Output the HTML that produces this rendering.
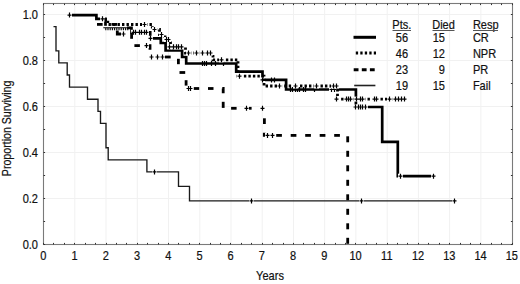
<!DOCTYPE html>
<html><head><meta charset="utf-8"><style>
html,body{margin:0;padding:0;background:#fff;width:520px;height:284px;overflow:hidden}
svg{display:block}
</style></head><body>
<svg width="520" height="284" viewBox="0 0 520 284">
<rect width="520" height="284" fill="#fff"/>
<path d="M74.8 4.5V243.5M106.0 4.5V243.5M137.3 4.5V243.5M168.5 4.5V243.5M199.8 4.5V243.5M231.0 4.5V243.5M262.2 4.5V243.5M293.5 4.5V243.5M324.7 4.5V243.5M355.9 4.5V243.5M387.2 4.5V243.5M418.4 4.5V243.5M449.6 4.5V243.5M480.9 4.5V243.5M44.5 198.5H511.5M44.5 152.5H511.5M44.5 106.5H511.5M44.5 60.5H511.5M44.5 14.5H511.5" stroke="#f1f1f1" stroke-width="1" fill="none"/>
<rect x="43.5" y="3.5" width="469.0" height="241.0" fill="none" stroke="#7a7a7a" stroke-width="1.1"/>
<path d="M43.5 244.5v-1.6M43.5 3.5v1.6M53.5 244.5v-1.6M53.5 3.5v1.6M64.5 244.5v-1.6M64.5 3.5v1.6M74.5 244.5v-1.6M74.5 3.5v1.6M85.5 244.5v-1.6M85.5 3.5v1.6M95.5 244.5v-1.6M95.5 3.5v1.6M106.5 244.5v-1.6M106.5 3.5v1.6M116.5 244.5v-1.6M116.5 3.5v1.6M126.5 244.5v-1.6M126.5 3.5v1.6M137.5 244.5v-1.6M137.5 3.5v1.6M147.5 244.5v-1.6M147.5 3.5v1.6M158.5 244.5v-1.6M158.5 3.5v1.6M168.5 244.5v-1.6M168.5 3.5v1.6M178.5 244.5v-1.6M178.5 3.5v1.6M189.5 244.5v-1.6M189.5 3.5v1.6M199.5 244.5v-1.6M199.5 3.5v1.6M210.5 244.5v-1.6M210.5 3.5v1.6M220.5 244.5v-1.6M220.5 3.5v1.6M230.5 244.5v-1.6M230.5 3.5v1.6M241.5 244.5v-1.6M241.5 3.5v1.6M251.5 244.5v-1.6M251.5 3.5v1.6M262.5 244.5v-1.6M262.5 3.5v1.6M272.5 244.5v-1.6M272.5 3.5v1.6M283.5 244.5v-1.6M283.5 3.5v1.6M293.5 244.5v-1.6M293.5 3.5v1.6M303.5 244.5v-1.6M303.5 3.5v1.6M314.5 244.5v-1.6M314.5 3.5v1.6M324.5 244.5v-1.6M324.5 3.5v1.6M335.5 244.5v-1.6M335.5 3.5v1.6M345.5 244.5v-1.6M345.5 3.5v1.6M355.5 244.5v-1.6M355.5 3.5v1.6M366.5 244.5v-1.6M366.5 3.5v1.6M376.5 244.5v-1.6M376.5 3.5v1.6M387.5 244.5v-1.6M387.5 3.5v1.6M397.5 244.5v-1.6M397.5 3.5v1.6M407.5 244.5v-1.6M407.5 3.5v1.6M418.5 244.5v-1.6M418.5 3.5v1.6M428.5 244.5v-1.6M428.5 3.5v1.6M439.5 244.5v-1.6M439.5 3.5v1.6M449.5 244.5v-1.6M449.5 3.5v1.6M460.5 244.5v-1.6M460.5 3.5v1.6M470.5 244.5v-1.6M470.5 3.5v1.6M480.5 244.5v-1.6M480.5 3.5v1.6M491.5 244.5v-1.6M491.5 3.5v1.6M501.5 244.5v-1.6M501.5 3.5v1.6M512.5 244.5v-1.6M512.5 3.5v1.6M43.5 244.5h1.6M512.5 244.5h-1.6M43.5 221.5h1.6M512.5 221.5h-1.6M43.5 198.5h1.6M512.5 198.5h-1.6M43.5 175.5h1.6M512.5 175.5h-1.6M43.5 152.5h1.6M512.5 152.5h-1.6M43.5 129.5h1.6M512.5 129.5h-1.6M43.5 106.5h1.6M512.5 106.5h-1.6M43.5 83.5h1.6M512.5 83.5h-1.6M43.5 60.5h1.6M512.5 60.5h-1.6M43.5 37.5h1.6M512.5 37.5h-1.6M43.5 14.5h1.6M512.5 14.5h-1.6" stroke="#333" stroke-width="1" fill="none"/>
<g fill="#111" stroke="#111" stroke-width="0.2" font-size="12" font-family='"Liberation Sans", sans-serif'><g transform="scale(0.92,1)"><text x="47.04" y="259.60" text-anchor="middle">0</text><text x="80.99" y="259.60" text-anchor="middle">1</text><text x="114.94" y="259.60" text-anchor="middle">2</text><text x="148.89" y="259.60" text-anchor="middle">3</text><text x="182.84" y="259.60" text-anchor="middle">4</text><text x="216.79" y="259.60" text-anchor="middle">5</text><text x="250.74" y="259.60" text-anchor="middle">6</text><text x="284.69" y="259.60" text-anchor="middle">7</text><text x="318.64" y="259.60" text-anchor="middle">8</text><text x="352.59" y="259.60" text-anchor="middle">9</text><text x="386.54" y="259.60" text-anchor="middle">10</text><text x="420.49" y="259.60" text-anchor="middle">11</text><text x="454.44" y="259.60" text-anchor="middle">12</text><text x="488.39" y="259.60" text-anchor="middle">13</text><text x="522.34" y="259.60" text-anchor="middle">14</text><text x="556.29" y="259.60" text-anchor="middle">15</text><text x="41.30" y="248.60" text-anchor="end">0.0</text><text x="41.30" y="202.60" text-anchor="end">0.2</text><text x="41.30" y="156.60" text-anchor="end">0.4</text><text x="41.30" y="110.60" text-anchor="end">0.6</text><text x="41.30" y="64.60" text-anchor="end">0.8</text><text x="41.30" y="18.60" text-anchor="end">1.0</text><text x="293.48" y="279.90" text-anchor="middle">Years</text><text x="436.74" y="29.20" text-anchor="middle">Pts.</text><text x="482.07" y="29.20" text-anchor="middle">Died</text><text x="514.02" y="29.20">Resp</text><text x="436.85" y="41.70" text-anchor="middle">56</text><text x="483.70" y="41.70" text-anchor="end">15</text><text x="514.02" y="41.70">CR</text><text x="436.85" y="58.00" text-anchor="middle">46</text><text x="483.70" y="58.00" text-anchor="end">12</text><text x="514.02" y="58.00">NPR</text><text x="436.85" y="74.50" text-anchor="middle">23</text><text x="483.70" y="74.50" text-anchor="end">9</text><text x="514.02" y="74.50">PR</text><text x="436.85" y="90.50" text-anchor="middle">19</text><text x="483.70" y="90.50" text-anchor="end">15</text><text x="514.02" y="90.50">Fail</text></g><text transform="translate(11.4,128.4) rotate(-90)" text-anchor="middle" textLength="95.5" lengthAdjust="spacingAndGlyphs">Proportion Surviving</text></g>
<path d="M392.5 30.5H411M432.5 30.5H454.5M473 30.5H498" stroke="#555" stroke-width="1"/>
<path d="M353.5 37.3H376" stroke="#000" stroke-width="3"/>
<path d="M355.8 53H376" stroke="#000" stroke-width="3" stroke-dasharray="2.3 2.2"/>
<path d="M353.7 69.8H376" stroke="#000" stroke-width="3" stroke-dasharray="4.8 3.3"/>
<path d="M354.2 85.5H375.4" stroke="#222" stroke-width="1.6"/>
<g fill="none" stroke="#000" stroke-width="2.7"><path d="M69.3 15.1 96.4 15.1 96.4 18.8 105.5 18.8 105.5 27.9 131.5 27.9 131.5 32.3 150.2 32.3 150.2 38.3 160.8 38.3 160.8 43.0 165.6 43.0 165.6 50.5 182.1 50.5 182.1 57.0 186.2 57.0 186.2 63.5 236.2 63.5 236.2 71.6 262.5 71.6 262.5 79.9 286.1 79.9 286.1 89.5 355.9 89.5 355.9 107.0 382.2 107.0 382.2 141.8 397.8 141.8 397.8 176.2 433.6 176.2"/></g><g fill="#fff"><rect x="67.0" y="12.6" width="5.0" height="5.0"/><rect x="100.0" y="16.3" width="5.0" height="5.0"/><rect x="131.0" y="29.8" width="5.0" height="5.0"/><rect x="133.0" y="29.8" width="5.0" height="5.0"/><rect x="137.0" y="29.8" width="5.0" height="5.0"/><rect x="139.0" y="29.8" width="5.0" height="5.0"/><rect x="142.0" y="29.8" width="5.0" height="5.0"/><rect x="144.0" y="29.8" width="5.0" height="5.0"/><rect x="148.0" y="35.8" width="5.0" height="5.0"/><rect x="260.0" y="77.4" width="5.0" height="5.0"/><rect x="329.0" y="87.0" width="5.0" height="5.0"/><rect x="332.0" y="87.0" width="5.0" height="5.0"/><rect x="353.0" y="104.5" width="5.0" height="5.0"/><rect x="356.0" y="104.5" width="5.0" height="5.0"/><rect x="358.0" y="104.5" width="5.0" height="5.0"/><rect x="360.0" y="104.5" width="5.0" height="5.0"/><rect x="363.0" y="104.5" width="5.0" height="5.0"/><rect x="398.0" y="173.7" width="5.0" height="5.0"/><rect x="431.0" y="173.7" width="5.0" height="5.0"/></g><path d="M67.5 15.1h4.0M69.5 12.6v5.0M100.5 18.8h4.0M102.5 16.3v5.0M131.5 32.3h4.0M133.5 29.8v5.0M133.5 32.3h4.0M135.5 29.8v5.0M137.5 32.3h4.0M139.5 29.8v5.0M139.5 32.3h4.0M141.5 29.8v5.0M142.5 32.3h4.0M144.5 29.8v5.0M144.5 32.3h4.0M146.5 29.8v5.0M148.5 38.3h4.0M150.5 35.8v5.0M260.5 79.9h4.0M262.5 77.4v5.0M329.5 89.5h4.0M331.5 87.0v5.0M332.5 89.5h4.0M334.5 87.0v5.0M353.5 107.0h4.0M355.5 104.5v5.0M356.5 107.0h4.0M358.5 104.5v5.0M358.5 107.0h4.0M360.5 104.5v5.0M360.5 107.0h4.0M362.5 104.5v5.0M363.5 107.0h4.0M365.5 104.5v5.0M398.5 176.2h4.0M400.5 173.7v5.0M431.5 176.2h4.0M433.5 173.7v5.0" fill="none" stroke="#000" stroke-width="1.2"/>
<g fill="#fff"></g><path d="M200.5 63.5h4.0M202.5 61.0v5.0M202.5 63.5h4.0M204.5 61.0v5.0M204.5 63.5h4.0M206.5 61.0v5.0M209.5 63.5h4.0M211.5 61.0v5.0M213.5 63.5h4.0M215.5 61.0v5.0M221.5 63.5h4.0M223.5 61.0v5.0M269.5 79.9h4.0M271.5 77.4v5.0M272.5 79.9h4.0M274.5 77.4v5.0M288.5 89.5h4.0M290.5 87.0v5.0M290.5 89.5h4.0M292.5 87.0v5.0M293.5 89.5h4.0M295.5 87.0v5.0M295.5 89.5h4.0M297.5 87.0v5.0M297.5 89.5h4.0M299.5 87.0v5.0M301.5 89.5h4.0M303.5 87.0v5.0M303.5 89.5h4.0M305.5 87.0v5.0M312.5 89.5h4.0M314.5 87.0v5.0" fill="none" stroke="#000" stroke-width="1.2"/>
<rect x="103.3" y="25.8" width="23.60000000000001" height="4" fill="#fff"/>
<path d="M103.3 27.8H126.9M105.8 27.8v2.4M108.0 27.8v2.4M110.2 27.8v2.4M112.4 27.8v2.4M114.6 27.8v2.4M116.8 27.8v2.4M119.0 27.8v2.4M121.2 27.8v2.4M123.4 27.8v2.4M125.6 27.8v2.4M127.8 27.8v2.4" stroke="#000" stroke-width="1.1" fill="none"/>
<g fill="none" stroke="#000" stroke-width="2.8" stroke-dasharray="2.4 2.1"><path d="M104.5 19.5 107.8 19.5 107.8 24.5 145.0 24.5"/><path d="M145.0 24.5 152.3 24.5 152.3 29.5 154.8 29.5"/><path d="M154.8 29.5 159.5 29.5 159.5 34.5 161.5 34.5"/><path d="M161.5 34.5 165.0 34.5 165.0 39.5 166.4 39.5"/><path d="M166.4 39.5 168.1 39.5"/><path d="M168.1 39.5 170.5 39.5 170.5 46.8 173.2 46.8"/><path d="M173.2 46.8 176.9 46.8"/><path d="M176.9 46.8 179.0 46.8"/><path d="M179.0 46.8 181.6 46.8"/><path d="M181.6 46.8 185.5 46.8 185.5 53.0 188.9 53.0"/><path d="M188.9 53.0 196.8 53.0"/><path d="M196.8 53.0 202.1 53.0"/><path d="M202.1 53.0 207.4 53.0"/><path d="M207.4 53.0 210.5 53.0"/><path d="M210.5 53.0 213.0 53.0 213.0 59.8 221.4 59.8"/><path d="M221.4 59.8 238.0 59.8 238.0 76.2 239.4 76.2"/><path d="M239.4 76.2 264.0 76.2 264.0 86.0 279.7 86.0"/><path d="M279.7 86.0 295.5 86.0"/><path d="M295.5 86.0 316.0 86.0"/><path d="M316.0 86.0 333.6 86.0"/><path d="M333.6 86.0 336.2 86.0"/><path d="M336.2 86.0 337.5 86.0 337.5 99.1 346.4 99.1"/><path d="M346.4 99.1 348.5 99.1"/><path d="M348.5 99.1 351.0 99.1"/><path d="M351.0 99.1 357.0 99.1"/><path d="M357.0 99.1 360.0 99.1"/><path d="M360.0 99.1 363.0 99.1"/><path d="M363.0 99.1 374.0 99.1"/><path d="M374.0 99.1 376.0 99.1"/><path d="M376.0 99.1 389.9 99.1"/><path d="M389.9 99.1 395.7 99.1"/><path d="M395.7 99.1 398.0 99.1"/><path d="M398.0 99.1 401.4 99.1"/><path d="M401.4 99.1 404.3 99.1"/></g><g fill="#fff"><rect x="142.0" y="22.0" width="5.0" height="5.0"/><rect x="152.0" y="27.0" width="5.0" height="5.0"/><rect x="159.0" y="32.0" width="5.0" height="5.0"/><rect x="164.0" y="37.0" width="5.0" height="5.0"/><rect x="166.0" y="37.0" width="5.0" height="5.0"/><rect x="167.0" y="44.3" width="5.0" height="5.0"/><rect x="171.0" y="44.3" width="5.0" height="5.0"/><rect x="174.0" y="44.3" width="5.0" height="5.0"/><rect x="176.0" y="44.3" width="5.0" height="5.0"/><rect x="179.0" y="44.3" width="5.0" height="5.0"/><rect x="186.0" y="50.5" width="5.0" height="5.0"/><rect x="194.0" y="50.5" width="5.0" height="5.0"/><rect x="200.0" y="50.5" width="5.0" height="5.0"/><rect x="205.0" y="50.5" width="5.0" height="5.0"/><rect x="208.0" y="50.5" width="5.0" height="5.0"/><rect x="219.0" y="57.3" width="5.0" height="5.0"/><rect x="237.0" y="73.7" width="5.0" height="5.0"/><rect x="277.0" y="83.5" width="5.0" height="5.0"/><rect x="293.0" y="83.5" width="5.0" height="5.0"/><rect x="314.0" y="83.5" width="5.0" height="5.0"/><rect x="331.0" y="83.5" width="5.0" height="5.0"/><rect x="334.0" y="83.5" width="5.0" height="5.0"/><rect x="334.0" y="96.6" width="5.0" height="5.0"/><rect x="344.0" y="96.6" width="5.0" height="5.0"/><rect x="346.0" y="96.6" width="5.0" height="5.0"/><rect x="348.0" y="96.6" width="5.0" height="5.0"/><rect x="354.0" y="96.6" width="5.0" height="5.0"/><rect x="358.0" y="96.6" width="5.0" height="5.0"/><rect x="360.0" y="96.6" width="5.0" height="5.0"/><rect x="372.0" y="96.6" width="5.0" height="5.0"/><rect x="374.0" y="96.6" width="5.0" height="5.0"/><rect x="387.0" y="96.6" width="5.0" height="5.0"/><rect x="393.0" y="96.6" width="5.0" height="5.0"/><rect x="396.0" y="96.6" width="5.0" height="5.0"/><rect x="399.0" y="96.6" width="5.0" height="5.0"/><rect x="402.0" y="96.6" width="5.0" height="5.0"/></g><path d="M142.5 24.5h4.0M144.5 22.0v5.0M152.5 29.5h4.0M154.5 27.0v5.0M159.5 34.5h4.0M161.5 32.0v5.0M164.5 39.5h4.0M166.5 37.0v5.0M166.5 39.5h4.0M168.5 37.0v5.0M167.5 46.8h4.0M169.5 44.3v5.0M171.5 46.8h4.0M173.5 44.3v5.0M174.5 46.8h4.0M176.5 44.3v5.0M176.5 46.8h4.0M178.5 44.3v5.0M179.5 46.8h4.0M181.5 44.3v5.0M186.5 53.0h4.0M188.5 50.5v5.0M194.5 53.0h4.0M196.5 50.5v5.0M200.5 53.0h4.0M202.5 50.5v5.0M205.5 53.0h4.0M207.5 50.5v5.0M208.5 53.0h4.0M210.5 50.5v5.0M219.5 59.8h4.0M221.5 57.3v5.0M237.5 76.2h4.0M239.5 73.7v5.0M277.5 86.0h4.0M279.5 83.5v5.0M293.5 86.0h4.0M295.5 83.5v5.0M314.5 86.0h4.0M316.5 83.5v5.0M331.5 86.0h4.0M333.5 83.5v5.0M334.5 86.0h4.0M336.5 83.5v5.0M334.5 99.1h4.0M336.5 96.6v5.0M344.5 99.1h4.0M346.5 96.6v5.0M346.5 99.1h4.0M348.5 96.6v5.0M348.5 99.1h4.0M350.5 96.6v5.0M354.5 99.1h4.0M356.5 96.6v5.0M358.5 99.1h4.0M360.5 96.6v5.0M360.5 99.1h4.0M362.5 96.6v5.0M372.5 99.1h4.0M374.5 96.6v5.0M374.5 99.1h4.0M376.5 96.6v5.0M387.5 99.1h4.0M389.5 96.6v5.0M393.5 99.1h4.0M395.5 96.6v5.0M396.5 99.1h4.0M398.5 96.6v5.0M399.5 99.1h4.0M401.5 96.6v5.0M402.5 99.1h4.0M404.5 96.6v5.0" fill="none" stroke="#000" stroke-width="1.2"/>
<g fill="none" stroke="#000" stroke-width="2.8"><path d="M97.0 24.4 102.6 24.4"/><path d="M111.5 24.4 117.0 24.4"/><path d="M117.3 30.5 117.3 34.0 121.0 34.0"/><path d="M131.6 33.0 131.6 38.8"/><path d="M134.4 45.6 139.9 45.6"/><path d="M148.5 45.6 150.0 45.6 150.0 49.8"/><path d="M164.7 57.0 170.7 57.0"/><path d="M178.4 58.8 178.4 64.2"/><path d="M179.5 72.5 185.2 72.5"/><path d="M186.1 80.2 186.1 85.6"/><path d="M193.8 88.5 199.2 88.5"/><path d="M208.0 88.5 213.5 88.5"/><path d="M222.3 88.5 223.2 88.5 223.2 93.2"/><path d="M223.2 101.8 223.2 107.9"/><path d="M231.1 108.3 236.6 108.3"/><path d="M248.4 108.3 251.6 108.3"/><path d="M264.4 118.3 264.4 124.0"/><path d="M264.3 132.8 264.3 135.4 265.5 135.4"/><path d="M276.2 135.4 281.9 135.4"/><path d="M290.7 135.4 296.4 135.4"/><path d="M305.2 135.4 310.9 135.4"/><path d="M319.7 135.4 325.4 135.4"/><path d="M334.2 135.4 339.9 135.4"/><path d="M347.7 136.3 347.7 142.3"/><path d="M347.7 150.8 347.7 156.8"/><path d="M347.7 165.3 347.7 171.3"/><path d="M347.7 179.8 347.7 185.8"/><path d="M347.7 194.3 347.7 200.3"/><path d="M347.7 208.8 347.7 214.8"/><path d="M347.7 223.3 347.7 229.3"/><path d="M347.7 237.8 347.7 243.8"/></g><g fill="#fff"><rect x="121.0" y="31.5" width="5.0" height="5.0"/><rect x="144.0" y="43.1" width="5.0" height="5.0"/><rect x="149.0" y="54.5" width="5.0" height="5.0"/><rect x="155.0" y="54.5" width="5.0" height="5.0"/><rect x="160.0" y="54.5" width="5.0" height="5.0"/><rect x="186.0" y="86.0" width="5.0" height="5.0"/><rect x="188.0" y="86.0" width="5.0" height="5.0"/><rect x="244.0" y="105.8" width="5.0" height="5.0"/><rect x="260.0" y="105.8" width="5.0" height="5.0"/><rect x="265.0" y="132.9" width="5.0" height="5.0"/><rect x="270.0" y="132.9" width="5.0" height="5.0"/></g><path d="M121.5 34.0h4.0M123.5 31.5v5.0M144.5 45.6h4.0M146.5 43.1v5.0M149.5 57.0h4.0M151.5 54.5v5.0M155.5 57.0h4.0M157.5 54.5v5.0M160.5 57.0h4.0M162.5 54.5v5.0M186.5 88.5h4.0M188.5 86.0v5.0M188.5 88.5h4.0M190.5 86.0v5.0M244.5 108.3h4.0M246.5 105.8v5.0M260.5 108.3h4.0M262.5 105.8v5.0M265.5 135.4h4.0M267.5 132.9v5.0M270.5 135.4h4.0M272.5 132.9v5.0" fill="none" stroke="#000" stroke-width="1.2"/>
<g fill="none" stroke="#1a1a1a" stroke-width="1.35"><path d="M53.5 26.6 56.0 26.6 56.0 50.8 58.8 50.8 58.8 62.9 67.2 62.9 67.2 75.0 69.5 75.0 69.5 87.1 87.5 87.1 87.5 99.2 98.0 99.2 98.0 111.3 100.5 111.3 100.5 123.4 106.0 123.4 106.0 147.7 108.2 147.7 108.2 159.8 146.9 159.8 146.9 171.9 178.5 171.9 178.5 186.4 189.5 186.4 189.5 200.9 454.3 200.9"/></g><g fill="#fff"><rect x="152.0" y="169.4" width="5.0" height="5.0"/><rect x="249.0" y="198.4" width="5.0" height="5.0"/><rect x="359.0" y="198.4" width="5.0" height="5.0"/><rect x="452.0" y="198.4" width="5.0" height="5.0"/></g><path d="M152.5 171.9h4.0M154.5 169.4v5.0M249.5 200.9h4.0M251.5 198.4v5.0M359.5 200.9h4.0M361.5 198.4v5.0M452.5 200.9h4.0M454.5 198.4v5.0" fill="none" stroke="#000" stroke-width="1.2"/>
</svg>
</body></html>
